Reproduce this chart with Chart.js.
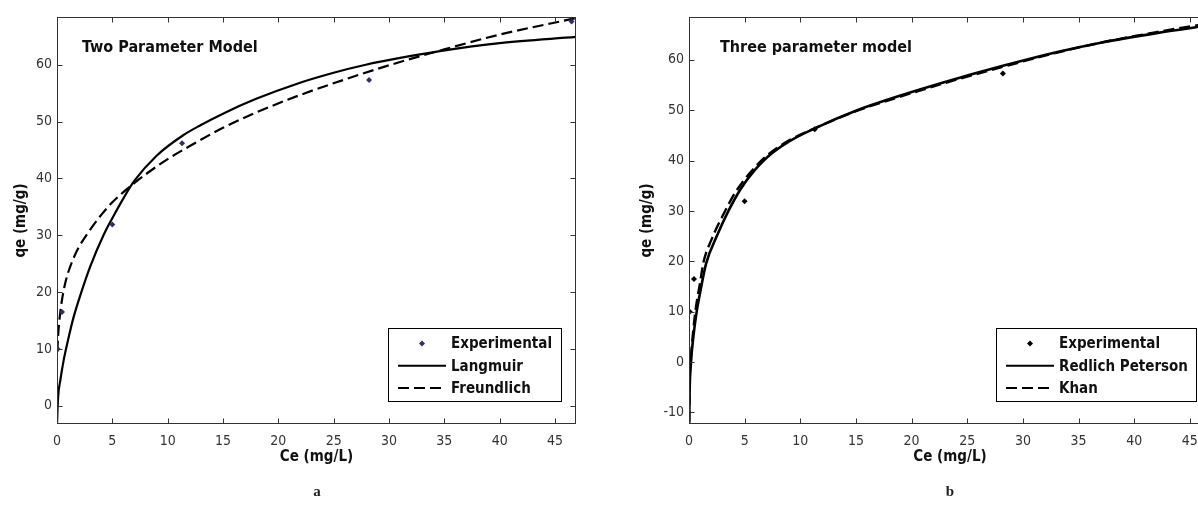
<!DOCTYPE html>
<html><head><meta charset="utf-8">
<script src="https://cdn.jsdelivr.net/npm/chart.js@4.4.1/dist/chart.umd.min.js"></script>
<style>
html,body{margin:0;padding:0;background:#fff;overflow:hidden;width:1198px;height:505px;}
.wrap{position:absolute;top:0;height:505px;overflow:hidden;}
.cap{position:absolute;font:bold 15px "Liberation Serif","Times New Roman",serif;color:#222;transform:translate(-50%,-50%);}
</style></head><body>
<div class="wrap" style="left:0;width:600px"><canvas id="ca" width="600" height="505"></canvas></div>
<div class="wrap" style="left:600px;width:598px"><canvas id="cb" width="640" height="505"></canvas></div>
<div class="cap" style="left:317px;top:491px">a</div>
<div class="cap" style="left:950px;top:491px">b</div>
<script>
// ---- data ----
const xTicks = [0, 5, 10, 15, 20, 25, 30, 35, 40, 45];
const yTicksA = [0, 10, 20, 30, 40, 50, 60];
const yTicksB = [-10, 0, 10, 20, 30, 40, 50, 60];

const ceExp = [0.07, 0.45, 5.0, 11.3, 28.2, 46.5];
const qeExp = [10.0, 16.5, 31.9, 46.2, 57.3, 67.6];

const ceLangmuir = [0, 0.1, 0.3, 0.6, 1.0, 1.5, 2.2, 3.0, 4.2, 5.0, 6.0, 7.0, 9.0, 11.4, 13.0, 15.0, 18.0, 21.9, 25.0, 27.9, 31.0, 34.6, 40.0, 46.9];
const qeLangmuir = [-3.2, 1.5, 4.5, 8.0, 11.6, 15.6, 20.0, 24.5, 30.0, 33.0, 36.5, 39.6, 44.0, 47.6, 49.4, 51.4, 54.0, 56.8, 58.6, 60.0, 61.2, 62.4, 63.8, 64.9];

const ceFreundlich = [0.03, 0.1, 0.2, 0.4, 0.7, 1.0, 1.5, 2.0, 3.0, 4.0, 5.0, 6.0, 7.0, 8.0, 10.0, 12.0, 15.0, 18.0, 22.0, 26.0, 30.0, 35.0, 40.0, 46.9];
const qeFreundlich = [9.5, 12.3, 14.7, 18.0, 21.2, 23.4, 26.0, 28.0, 31.0, 33.6, 35.8, 37.6, 39.2, 40.7, 43.4, 45.7, 48.9, 51.6, 54.7, 57.4, 59.9, 62.7, 65.3, 68.2];

const ceRedlich = [0.005, 0.05, 0.18, 0.4, 0.69, 1.0, 1.53, 2.5, 3.5, 4.6, 5.5, 7.0, 9.0, 11.5, 15.0, 19.0, 23.0, 28.2, 33.0, 37.0, 42.0, 46.9];
const qeRedlich = [-15.0, -6.5, 0.0, 5.2, 10.0, 13.8, 19.5, 25.0, 29.8, 34.2, 37.0, 40.6, 43.8, 46.6, 49.9, 52.9, 55.6, 58.8, 61.5, 63.4, 65.3, 66.9];

const ceKhan = [0.005, 0.05, 0.15, 0.35, 0.6, 1.0, 1.3, 2.0, 3.2, 4.2, 5.5, 7.0, 9.0, 11.5, 15.0, 19.0, 23.0, 28.2, 33.0, 37.0, 42.0, 46.9];
const qeKhan = [-15.0, -5.0, 0.0, 5.5, 10.5, 15.8, 19.8, 24.2, 29.8, 33.8, 37.6, 41.0, 44.0, 46.6, 49.8, 52.7, 55.4, 58.6, 61.4, 63.4, 65.5, 67.3];

const X_MAX = 46.9;

// ---- helpers ----
const NARROW = '"Liberation Sans Narrow","DejaVu Sans Condensed","Arial Narrow","Liberation Sans",Arial,sans-serif';
const tickFont = {family: NARROW, size: 14};
const labelFont = {family: NARROW, size: 15, weight: 'bold'};
const pts = (xs, ys) => xs.map((x, i) => ({x: x, y: ys[i]}));

const framePlugin = {
  id: 'frame',
  afterDatasetsDraw(chart, args, opts) {
    const ctx = chart.ctx, a = chart.chartArea, xs = chart.scales.x, ys = chart.scales.y;
    ctx.save();
    ctx.strokeStyle = '#333';
    ctx.lineWidth = 1;
    ctx.beginPath();
    const L = Math.round(a.left) + 0.5, R = Math.round(a.right) - 0.5, T = Math.round(a.top) + 0.5, B = Math.round(a.bottom) - 0.5;
    xs.ticks.forEach(t => {
      const px = Math.round(xs.getPixelForValue(t.value)) + 0.5;
      ctx.moveTo(px, B); ctx.lineTo(px, B - 5);
      ctx.moveTo(px, T); ctx.lineTo(px, T + 5);
    });
    ys.ticks.forEach(t => {
      const py = Math.round(ys.getPixelForValue(t.value)) + 0.5;
      ctx.moveTo(L, py); ctx.lineTo(L + 5, py);
      ctx.moveTo(R, py); ctx.lineTo(R - 5, py);
    });
    ctx.stroke();
    ctx.strokeRect(L, T, R - L, B - T);

    // in-plot title
    ctx.fillStyle = '#111';
    ctx.font = 'bold 16px ' + NARROW;
    ctx.textBaseline = 'middle';
    ctx.textAlign = 'left';
    ctx.fillText(opts.title, a.left + opts.titleDx, a.top + 31);

    // legend
    const ds = chart.data.datasets;
    ctx.font = 'bold 15px ' + NARROW;
    const tw = Math.max.apply(null, ds.map(d => ctx.measureText(d.label).width));
    const boxW = 63 + tw + 9, boxH = 73;
    const boxR = Math.round(a.right - 15) + 0.5, boxB = Math.round(a.bottom - 23) + 0.5;
    const boxL = Math.round(boxR - boxW) , boxT = boxB - boxH;
    ctx.fillStyle = '#fff';
    ctx.fillRect(boxL, boxT, boxR - boxL, boxH);
    ctx.strokeStyle = '#000';
    ctx.strokeRect(boxL + 0.5, boxT, boxR - boxL - 0.5, boxH);
    ds.forEach((d, i) => {
      const cy = boxT + 15 + i * 22.3;
      if (d.showLine === false) {
        const mx = boxL + 34, r = 3;
        ctx.fillStyle = d.pointBackgroundColor;
        ctx.beginPath();
        ctx.moveTo(mx, cy - r); ctx.lineTo(mx + r, cy); ctx.lineTo(mx, cy + r); ctx.lineTo(mx - r, cy);
        ctx.closePath(); ctx.fill();
      } else {
        ctx.strokeStyle = d.borderColor;
        ctx.lineWidth = 2;
        ctx.setLineDash(d.borderDash || []);
        ctx.beginPath();
        ctx.moveTo(boxL + 10, cy); ctx.lineTo(boxL + 58, cy);
        ctx.stroke();
        ctx.setLineDash([]);
      }
      ctx.fillStyle = '#111';
      ctx.fillText(d.label, boxL + 63, cy + 1);
    });
    ctx.restore();
  }
};

function makeScales(yTicks, yMin, yMax, yWidth, yTitlePad) {
  return {
    x: {
      type: 'linear', min: 0, max: X_MAX,
      afterBuildTicks: s => { s.ticks = xTicks.map(v => ({value: v})); },
      afterFit: s => { s.height = 81; },
      grid: {display: false, drawTicks: false}, border: {display: false},
      ticks: {font: tickFont, color: '#333', padding: 9, maxRotation: 0, autoSkip: false},
      title: {display: true, text: 'Ce (mg/L)', font: labelFont, color: '#111', padding: {top: 0, bottom: 39}}
    },
    y: {
      type: 'linear', min: yMin, max: yMax,
      afterBuildTicks: s => { s.ticks = yTicks.map(v => ({value: v})); },
      afterFit: s => { s.width = yWidth; },
      grid: {display: false, drawTicks: false}, border: {display: false},
      ticks: {font: tickFont, color: '#333', padding: 5, autoSkip: false},
      title: {display: true, text: 'qe (mg/g)', font: labelFont, color: '#111', padding: {top: yTitlePad, bottom: 0}}
    }
  };
}

function lineDs(label, xs, ys, dash, width) {
  return {label: label, data: pts(xs, ys), borderColor: '#000', borderWidth: width, borderDash: dash,
    pointRadius: 0, pointHoverRadius: 0, fill: false, cubicInterpolationMode: 'monotone', clip: 0};
}
function expDs(color) {
  return {label: 'Experimental', data: pts(ceExp, qeExp), showLine: false, pointStyle: 'rectRot',
    pointRadius: 3, pointBackgroundColor: color, pointBorderColor: color, borderColor: color, borderWidth: 0, clip: 0};
}

Chart.defaults.animation = false;

new Chart(document.getElementById('ca'), {
  type: 'line',
  data: {datasets: [
    expDs('#3a2c66'),
    lineDs('Langmuir', ceLangmuir, qeLangmuir, [], 2.2),
    lineDs('Freundlich', ceFreundlich, qeFreundlich, [11, 5], 2.2)
  ]},
  options: {
    responsive: false, animation: false, events: [],
    layout: {padding: {top: 17, right: 24, left: 0, bottom: 0}},
    scales: makeScales(yTicksA, -3.2, 68.4, 57, 12),
    plugins: {legend: {display: false}, tooltip: {enabled: false},
      frame: {title: 'Two Parameter Model', titleDx: 25}}
  },
  plugins: [framePlugin]
});

new Chart(document.getElementById('cb'), {
  type: 'line',
  data: {datasets: [
    expDs('#000'),
    lineDs('Redlich Peterson', ceRedlich, qeRedlich, [], 2.6),
    lineDs('Khan', ceKhan, qeKhan, [11, 5], 2.4)
  ]},
  options: {
    responsive: false, animation: false, events: [],
    layout: {padding: {top: 17, right: 29, left: 0, bottom: 0}},
    scales: makeScales(yTicksB, -12.3, 68.5, 89, 38),
    plugins: {legend: {display: false}, tooltip: {enabled: false},
      frame: {title: 'Three parameter model', titleDx: 31}}
  },
  plugins: [framePlugin]
});
</script>
</body></html>
